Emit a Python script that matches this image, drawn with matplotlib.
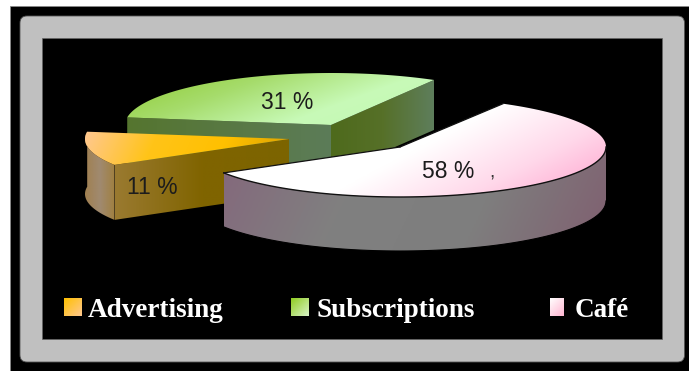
import numpy as np
import matplotlib
matplotlib.use("Agg")
import matplotlib.pyplot as plt
from matplotlib.colors import LinearSegmentedColormap
from matplotlib.patches import Polygon, FancyBboxPatch, Rectangle

categories = ["Café", "Advertising", "Subscriptions"]
shares = [58, 11, 31]
legend_order = ["Advertising", "Subscriptions", "Café"]

W, H = 689, 371
fig = plt.figure(figsize=(W / 100, H / 100), dpi=100, facecolor="white")
ax = fig.add_axes([0, 0, 1, 1])
ax.set_xlim(0, W)
ax.set_ylim(H, 0)
ax.axis("off")

START = 60.0
centers = {"Café": (400, 147), "Advertising": (289, 139), "Subscriptions": (331, 125)}
radii = {"Café": (206, 50), "Advertising": (204, 50), "Subscriptions": (206, 52)}
depths = {"Café": 54, "Advertising": 55, "Subscriptions": 50}


def grad(verts, colors, angle, z):
    verts = np.asarray(verts)
    x0, y0 = verts.min(0)
    x1, y1 = verts.max(0)
    n = 200
    xx, yy = np.meshgrid(np.linspace(0, 1, n), np.linspace(0, 1, n))
    a = np.deg2rad(angle)
    v = (xx - .5) * np.cos(a) * (x1 - x0) - (yy - .5) * np.sin(a) * (y1 - y0)
    v = (v - v.min()) / (v.max() - v.min())
    cm = LinearSegmentedColormap.from_list("g", colors)
    im = ax.imshow(v, cmap=cm, extent=(x0, x1, y1, y0), aspect="auto", zorder=z,
                   interpolation="bilinear")
    p = Polygon(verts, closed=True, transform=ax.transData, fc="none", ec="none")
    ax.add_patch(p)
    im.set_clip_path(p)


def arc(name, a0, a1):
    c = centers[name]
    rx, ry = radii[name]
    t = np.deg2rad(np.linspace(a0, a1, 120))
    return np.c_[c[0] + rx * np.cos(t), c[1] - ry * np.sin(t)]


# background frame
ax.add_patch(Rectangle((10, 6), 680, 366, fc="black", ec="#888888", lw=.6, zorder=1))
ax.add_patch(FancyBboxPatch((24, 20), 656.5, 338, boxstyle="round,pad=4,rounding_size=7",
                            fc="#c0c0c0", ec="#555555", lw=.6, zorder=2))
ax.add_patch(Rectangle((42, 38), 620, 301, fc="black", ec="#666666", lw=.5, zorder=3))

# wedge angles from the shares, clockwise from START
angles = {}
a = START
for name, s in zip(categories, shares):
    angles[name] = (a, a - s * 3.6)
    a -= s * 3.6

# Subscriptions
name = "Subscriptions"
c = np.array(centers[name], float)
d = np.array([0, depths[name]])
a0, a1 = angles[name]
e0 = arc(name, a0, a0)[0]
e1 = arc(name, a1, a1)[0]
grad([c, e1, e1 + d, c + d], ["#4e6a1c", "#567028", "#5e7e5c"], 0, 10)
grad([c, e0, e0 + d, c + d], ["#5c7c58", "#55752f"], 180, 10)
grad(np.vstack([[c], arc(name, a1, a0)]), ["#8ecb30", "#a6dc6c", "#c8fab8", "#c0f8b0"], -70, 11)

# Advertising
name = "Advertising"
c = np.array(centers[name], float)
d = np.array([0, depths[name]])
a0, a1 = angles[name]
e0 = arc(name, a0, a0)[0]
e1 = arc(name, a1, a1)[0]
front = arc(name, a0, a1)
grad(np.vstack([c, e0, e0 + d, c + d]), ["#9a7a30", "#806400", "#7c6400"], 0, 20)
grad(np.vstack([front, (front + d)[::-1]]), ["#a08050", "#a08a70", "#a08040"], 0, 21)
grad(np.vstack([[c], arc(name, a1, a0)]), ["#ffc890", "#ffc418", "#ffc000", "#d8a000"], -25, 22)

# Café
name = "Café"
c = np.array(centers[name], float)
d = np.array([0, depths[name]])
a0, a1 = angles[name]
front = arc(name, 0, a1)
side = np.vstack([front, (front + d)[::-1]])
grad(side, ["#84687c", "#808080", "#7e7e7e", "#805f70"], -25, 30)
bottom = front + d
ax.plot(bottom[:, 0], bottom[:, 1], color="black", lw=.8, zorder=32)
grad(np.vstack([[c], arc(name, a0, a1)]), ["#ffd8e8", "#ffffff", "#ffffff", "#ffd8ea", "#ffa0cc"], -62, 33)
ax.plot(front[:, 0], front[:, 1], color="#111111", lw=1.0, zorder=34)
for ang in (a0, a1):
    e = arc(name, ang, ang)[0]
    ax.plot([c[0], e[0]], [c[1], e[1]], color="#111111", lw=.9, zorder=34)

# percent labels
label_pos = {"Café": (448.5, 178), "Advertising": (152, 194), "Subscriptions": (287, 109)}
for name, s in zip(categories, shares):
    x, y = label_pos[name]
    ax.text(x, y, f"{s} %", ha="center", va="baseline", color="#1c1c1c",
            family="Liberation Sans", fontsize=16.5, zorder=40)
ax.text(492, 178, ",", ha="center", va="baseline", color="#333333", fontsize=14, zorder=40,
        family="Liberation Sans")

# legend
swatch_x = {"Advertising": 64, "Subscriptions": 291, "Café": 550}
text_x = {"Advertising": 88, "Subscriptions": 317, "Café": 575}
swatch_cols = {
    "Advertising": ["#ffc000", "#ffc890"],
    "Subscriptions": ["#90cc20", "#d8f4c8"],
    "Café": ["#ffffff", "#ffb4d0"],
}
swatch_w = {"Advertising": 18, "Subscriptions": 18, "Café": 14}
for name in legend_order:
    x = swatch_x[name]
    s = swatch_w[name]
    grad([(x, 298), (x + s, 298), (x + s, 316), (x, 316)], swatch_cols[name], -45, 40)
    ax.text(text_x[name], 317, name, ha="left", va="baseline", color="white",
            family="Liberation Serif", weight="bold", fontsize=19.5, zorder=40)

ax.set_xlim(0, W)
ax.set_ylim(H, 0)
fig.savefig("out.png", dpi=100, facecolor="white")
